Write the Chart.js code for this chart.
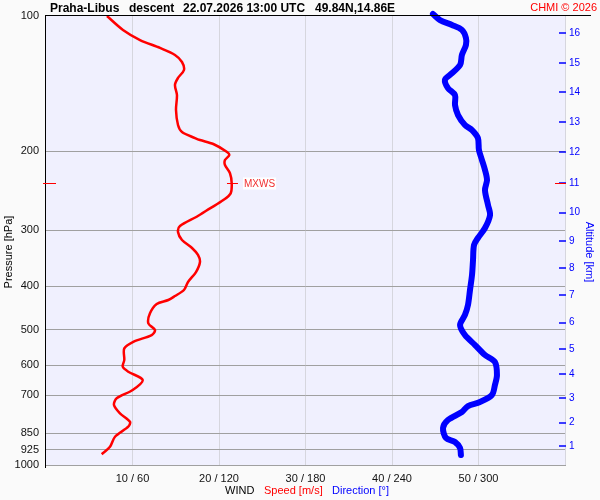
<!DOCTYPE html>
<html>
<head>
<meta charset="utf-8">
<script src="https://cdn.jsdelivr.net/npm/chart.js@4.4.1/dist/chart.umd.min.js"></script>
<style>
  html, body { margin: 0; padding: 0; background: #fafafa; }
  #wrap { width: 600px; height: 500px; }
</style>
</head>
<body>
<div id="wrap"><canvas id="profile" width="600" height="500"></canvas></div>
<script>
// wind speed profile (m/s) against pressure (hPa)
const speedPressure = [100, 107.4, 113.1, 117.8, 122.1, 126.6, 131.9, 137.4, 142.4, 150, 162, 174.9, 181.3, 187, 188.9, 192.8,
  200.6, 204, 209.3, 214.7, 224, 235.9, 248.3, 257, 268.2, 279.9, 293.6, 302.7, 315.4, 328.6, 340.6, 353.1, 371.7, 391.2,
  407.6, 420.4, 429.1, 438, 459.5, 483.6, 500.5, 513.5, 531.5, 549.8, 583.6, 604, 619.7, 646.6, 680.8, 710.4, 735.2, 767.2,
  801, 821.8, 865, 910.8, 946.4];
const speedValues = [7.05, 8.9, 10.87, 13.18, 14.91, 15.72, 15.95, 15.26, 14.91, 15.14, 15.03, 15.26, 15.72, 17.23, 17.8, 19.34,
  20.89, 21.19, 20.69, 20.69, 21.27, 21.47, 21.35, 20.5, 18.96, 17.42, 15.49, 15.26, 15.72, 16.88, 17.57, 17.8, 17.34, 16.42,
  15.95, 14.91, 14.14, 12.8, 12.02, 11.83, 12.6, 12.22, 10.09, 9.05, 9.05, 8.87, 9.51, 11.18, 10.02, 8.17, 7.86, 8.55,
  9.71, 9.51, 7.98, 7.4, 6.44];

// wind direction profile (deg) against pressure (hPa)
const dirPressure = [99, 102.1, 104.7, 107.4, 111.9, 116, 122.1, 128.6, 135.3, 138.8, 144.7, 150, 157.8, 166.2, 174.9, 179.5,
  187, 198.8, 209.3, 220.3, 231.9, 244.1, 263.6, 277.5, 296.6, 312.2, 323.6, 349.5, 377.5, 407.6, 440.2, 463.3, 487.7,
  513.5, 540.5, 568.9, 589.7, 630.2, 663.4, 698.2, 724, 739, 762.1, 794, 827.3, 870.8, 888.9, 916.6, 950.1];
const dirValues = [268.4, 273.3, 281.6, 288.5, 291.3, 291.3, 288.5, 287.2, 280.2, 276.7, 278.8, 283.7, 283.7, 285.8, 290.6, 295.5,
  299.6, 300.3, 302.4, 304.5, 305.9, 304.5, 306.6, 308, 304.5, 299.6, 296.9, 296.2, 295.5, 294.1, 292.7, 290.6, 287.2,
  290.6, 297.6, 304.5, 311.4, 312.8, 311.4, 309.3, 301, 292.7, 288.5, 278.8, 275.4, 277.5, 283.7, 287.2, 287.8];

// axes
const pressureTicks = [100, 200, 300, 400, 500, 600, 700, 850, 925, 1000];
const speedTicks = [0, 10, 20, 30, 40, 50, 60];
const altitudeKm = [1, 2, 3, 4, 5, 6, 7, 8, 9, 10, 11, 12, 13, 14, 15, 16];
const altitudePressure = [906, 805, 710, 627, 551.5, 482, 419, 365, 317, 274, 235.5, 201, 172, 148, 127.3, 109.3];

// maximum wind
const mxwsPressure = 236;
const mxwsSpeed = 21.5;

const FONT = '"Liberation Sans", Arial, sans-serif';

const decor = {
  id: 'decor',
  beforeDraw(chart) {
    const { ctx, chartArea: a } = chart;
    ctx.save();
    ctx.fillStyle = '#fafafa';
    ctx.fillRect(0, 0, chart.width, chart.height);
    ctx.fillStyle = '#f0f0fe';
    ctx.fillRect(a.left, a.top, a.right - a.left, a.bottom - a.top);
    ctx.restore();
  },
  afterDatasetsDraw(chart) {
    const { ctx, chartArea: a, scales } = chart;
    ctx.save();

    // black frame lines
    ctx.strokeStyle = '#000';
    ctx.lineWidth = 1;
    ctx.beginPath();
    ctx.moveTo(a.left - 0.5, a.top);
    ctx.lineTo(a.left - 0.5, a.bottom + 3);
    ctx.moveTo(a.left - 1, a.top - 0.5);
    ctx.lineTo(591, a.top - 0.5);
    ctx.stroke();

    // altitude ticks inside the right edge
    ctx.strokeStyle = '#0000ff';
    ctx.lineWidth = 1.5;
    altitudePressure.forEach(p => {
      const y = Math.round(scales.yAlt.getPixelForValue(p));
      ctx.beginPath();
      ctx.moveTo(a.right - 6, y);
      ctx.lineTo(a.right + 1, y);
      ctx.stroke();
    });

    // max wind marks
    const my = Math.round(scales.y.getPixelForValue(mxwsPressure)) + 0.5;
    const mx = scales.x.getPixelForValue(mxwsSpeed);
    ctx.strokeStyle = '#ff0000';
    ctx.lineWidth = 1;
    ctx.beginPath();
    ctx.moveTo(a.left - 3, my); ctx.lineTo(a.left + 10, my);
    ctx.moveTo(a.right - 10, my); ctx.lineTo(a.right + 1, my);
    ctx.moveTo(mx - 5, my); ctx.lineTo(mx + 6, my);
    ctx.stroke();
    ctx.font = '10px ' + FONT;
    ctx.fillStyle = '#ffffff';
    const tw = ctx.measureText('MXWS').width;
    ctx.fillRect(mx + 11, my - 6, tw + 2, 12);
    ctx.fillStyle = '#f03030';
    ctx.textBaseline = 'middle';
    ctx.fillText('MXWS', mx + 12, my + 0.5);

    // header
    ctx.textBaseline = 'alphabetic';
    ctx.fillStyle = '#000';
    ctx.font = 'bold 12px ' + FONT;
    ctx.fillText('Praha-Libus', 50, 12);
    ctx.fillText('descent', 129, 12);
    ctx.fillText('22.07.2026 13:00 UTC', 183, 12);
    ctx.fillText('49.84N,14.86E', 315, 12);
    ctx.font = '11px ' + FONT;
    ctx.fillStyle = '#ff0000';
    ctx.textAlign = 'right';
    ctx.fillText('CHMI \u00a9 2026', 597, 11);

    // bottom caption
    ctx.textAlign = 'left';
    ctx.fillStyle = '#000';
    ctx.fillText('WIND', 225, 494);
    ctx.fillStyle = '#ff0000';
    ctx.fillText('Speed [m/s]', 264, 494);
    ctx.fillStyle = '#0000ff';
    ctx.fillText('Direction [\u00b0]', 332, 494);

    // axis titles
    ctx.textAlign = 'center';
    ctx.textBaseline = 'middle';
    ctx.fillStyle = '#000';
    ctx.save();
    ctx.translate(8.5, 252);
    ctx.rotate(-Math.PI / 2);
    ctx.fillText('Pressure [hPa]', 0, 0);
    ctx.restore();
    ctx.fillStyle = '#0000ff';
    ctx.save();
    ctx.translate(589.5, 252);
    ctx.rotate(Math.PI / 2);
    ctx.fillText('Altitude [km]', 0, 0);
    ctx.restore();

    ctx.restore();
  }
};

new Chart(document.getElementById('profile').getContext('2d'), {
  type: 'scatter',
  data: {
    datasets: [{
      label: 'Direction',
      data: dirPressure.map((p, i) => ({ x: dirValues[i] / 6, y: p })),
      showLine: true,
      borderColor: '#0000ff',
      borderWidth: 6,
      borderCapStyle: 'round',
      borderJoinStyle: 'round',
      pointRadius: 0,
      tension: 0.3,
      clip: false
    }, {
      label: 'Speed',
      data: speedPressure.map((p, i) => ({ x: speedValues[i], y: p })),
      showLine: true,
      borderColor: '#ff0000',
      borderWidth: 2.5,
      borderJoinStyle: 'round',
      pointRadius: 0,
      tension: 0.3
    }]
  },
  options: {
    responsive: false,
    animation: false,
    devicePixelRatio: 1,
    layout: { padding: { top: 16, left: 0, right: 0, bottom: 0 } },
    plugins: { legend: { display: false }, tooltip: { enabled: false } },
    scales: {
      x: {
        type: 'linear',
        position: 'bottom',
        min: 0,
        max: 60,
        afterBuildTicks: s => { s.ticks = speedTicks.map(v => ({ value: v })); },
        afterFit: s => { s.height = 35; },
        grid: {
          color: c => (c.tick && c.tick.value === 0) ? 'rgba(0,0,0,0)' : '#d6d6de',
          drawTicks: false
        },
        border: { display: true, color: '#a0a0a0' },
        ticks: {
          autoSkip: false,
          maxRotation: 0,
          padding: 7,
          color: '#111',
          font: { family: FONT, size: 11 },
          callback: v => (v === 0 || v === 60) ? '' : v + ' / ' + v * 6
        }
      },
      y: {
        type: 'logarithmic',
        position: 'left',
        reverse: true,
        min: 100,
        max: 1000,
        afterBuildTicks: s => { s.ticks = pressureTicks.map(v => ({ value: v })); },
        afterFit: s => { s.width = 46; },
        grid: {
          color: c => (c.tick && c.tick.value === 100) ? 'rgba(0,0,0,0)' : '#a0a0a0',
          drawTicks: false
        },
        border: { display: false },
        ticks: {
          autoSkip: false,
          padding: 7,
          color: '#111',
          font: { family: FONT, size: 11 },
          callback: v => String(v)
        }
      },
      yAlt: {
        type: 'logarithmic',
        position: 'right',
        reverse: true,
        min: 100,
        max: 1000,
        afterBuildTicks: s => { s.ticks = altitudePressure.map(v => ({ value: v })); },
        afterFit: s => { s.width = 35; },
        grid: { drawOnChartArea: false, drawTicks: false },
        border: { display: false },
        ticks: {
          autoSkip: false,
          padding: 4,
          color: '#0000ff',
          font: { family: FONT, size: 10 },
          callback: (v, i) => String(altitudeKm[i])
        }
      }
    }
  },
  plugins: [decor]
});
</script>
</body>
</html>
